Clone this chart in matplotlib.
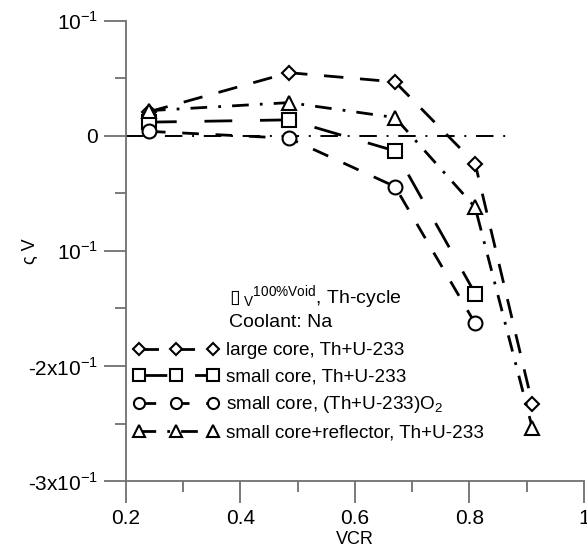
import matplotlib
matplotlib.use('Agg')
import matplotlib.pyplot as plt
from matplotlib.ticker import MultipleLocator

plt.rcParams['font.family'] = ['Liberation Sans', 'DejaVu Sans']

vcr = [0.24, 0.485, 0.67, 0.81, 0.91]
large_core = [0.021, 0.055, 0.047, -0.024, -0.233]
small_core = [0.012, 0.014, -0.013, -0.137]
small_oxide = [0.004, -0.002, -0.044, -0.163]
small_refl = [0.022, 0.029, 0.016, -0.062, -0.254]
zero_x = [0.2, 0.87]

yticks = [0.1, 0.0, -0.1, -0.2, -0.3]
ytick_labels = [r'10$^{\mathregular{-1}}$', '0', r'10$^{\mathregular{-1}}$',
                r'-2x10$^{\mathregular{-1}}$', r'-3x10$^{\mathregular{-1}}$']
xticks = [0.2, 0.4, 0.6, 0.8, 1.0]
xtick_labels = ['0.2', '0.4', '0.6', '0.8', '1']

fig = plt.figure(figsize=(5.87, 5.51), dpi=100)
ax = fig.add_axes([0.2147, 0.127, 0.78, 0.835])

ax.plot(zero_x, [0, 0], color='black', lw=1.4, ls=(0, (9, 5, 1, 5)))

mk = dict(color='black', lw=2, mfc='white', mec='black', mew=1.5, clip_on=False)
ax.plot(vcr, large_core, marker='D', ms=7.5, ls=(0, (7, 6)),
        label='large core, Th+U-233', **mk)
ax.plot(vcr[:4], small_core, marker='s', ms=10, ls=(0, (10, 10)),
        label='small core, Th+U-233', **mk)
ax.plot(vcr[:4], small_oxide, marker='o', ms=10, ls=(0, (6, 6)),
        label=r'small core, (Th+U-233)O$_\mathregular{2}$', **mk)
ax.plot(vcr, small_refl, marker='^', ms=10, ls=(0, (6, 4, 1, 4)),
        label='small core+reflector, Th+U-233', **mk)

ax.set_xlim(0.2, 1.0)
ax.set_ylim(-0.3, 0.1)
ax.set_xticks(xticks)
ax.set_xticklabels(xtick_labels)
ax.set_yticks(yticks)
ax.set_yticklabels(ytick_labels)
ax.xaxis.set_minor_locator(MultipleLocator(0.1))
ax.yaxis.set_minor_locator(MultipleLocator(0.05))

for s in ['top', 'right']:
    ax.spines[s].set_visible(False)
for s in ['left', 'bottom']:
    ax.spines[s].set_color('#707070')
    ax.spines[s].set_linewidth(1.3)
ax.tick_params(which='major', direction='out', length=16, width=1.3,
               color='#707070', labelsize=15, pad=4)
ax.tick_params(which='minor', direction='out', length=8, width=1.3, color='#707070')

ax.set_xlabel('VCR', fontsize=13)
ax.xaxis.set_label_coords(0.5, -0.108)
ax.set_ylabel('ς V', fontsize=13)
ax.yaxis.set_label_coords(-0.19, 0.5)

ax.text(0.225, 0.40, '\u25af', transform=ax.transAxes, fontsize=14,
        family='DejaVu Sans', va='center')
ax.text(0.255, 0.40, r'$\mathregular{_V{}^{100\%Void}}$, Th-cycle',
        transform=ax.transAxes, fontsize=14, va='center')
ax.text(0.225, 0.345, 'Coolant: Na', transform=ax.transAxes, fontsize=14,
        va='center')

ax.legend(loc='upper left', bbox_to_anchor=(0.0, 0.318), frameon=False,
          fontsize=13.6, numpoints=3, handlelength=4.5, handletextpad=0.4,
          labelspacing=0.47, borderaxespad=0, markerscale=0.8)

fig.savefig('out.png', dpi=100)
